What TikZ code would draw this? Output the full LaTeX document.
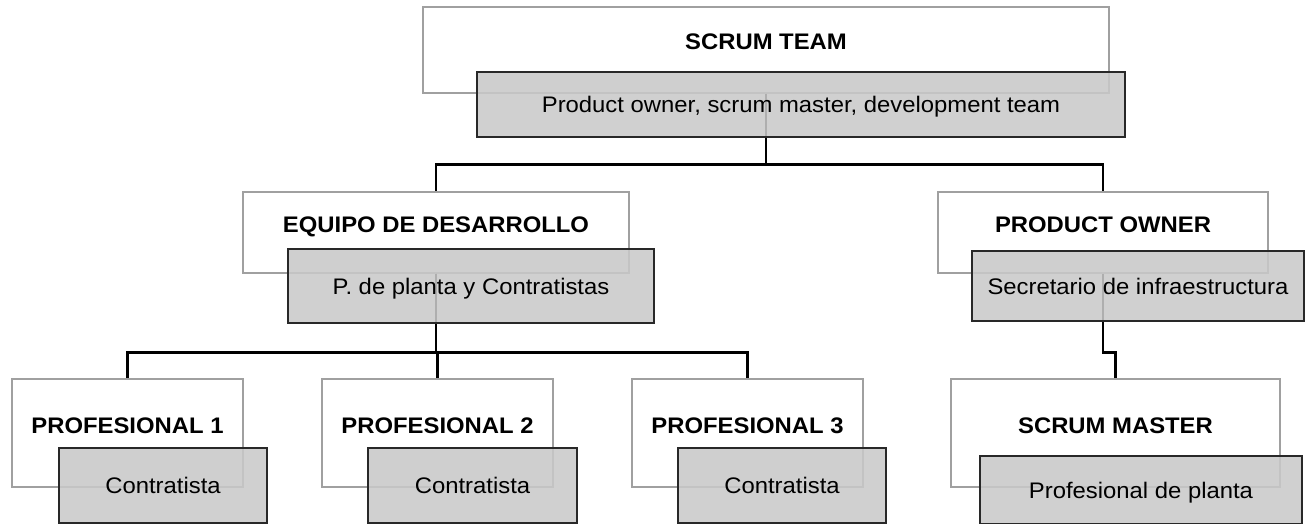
\documentclass[tikz,border=0pt]{standalone}
\usepackage{fontspec}
\setmainfont{Liberation Sans}[FakeStretch=1.06]
\definecolor{wborder}{RGB}{160,160,160}
\definecolor{gborder}{RGB}{40,40,40}
\definecolor{gfill}{RGB}{201,201,201}
\begin{document}
\begin{tikzpicture}[x=1pt,y=-1pt,
  whitebox/.style={draw=wborder, line width=1.2pt, fill=white, inner sep=0pt},
  graybox/.style={draw=gborder, line width=1.2pt, fill=gfill, fill opacity=0.87,
    draw opacity=1, text opacity=1, inner sep=0pt, text height=16pt, text depth=0pt,
    font=\fontsize{22.5}{27}\selectfont},
  titletext/.style={anchor=base, inner sep=0pt, font=\fontsize{22.5}{27}\selectfont\bfseries},
  conn/.style={line width=2.4pt, black}]
\useasboundingbox (0,0) rectangle (1305,524);
% white boxes
\node[whitebox, minimum width=686pt, minimum height=86pt] (ST) at (766,50) {};
\node[whitebox, minimum width=386pt, minimum height=81pt] (EQ) at (436,232.5) {};
\node[whitebox, minimum width=330pt, minimum height=81pt] (PO) at (1103,232.5) {};
\node[whitebox, minimum width=231pt, minimum height=108pt] (P1) at (127.5,433) {};
\node[whitebox, minimum width=231pt, minimum height=108pt] (P2) at (437.5,433) {};
\node[whitebox, minimum width=231pt, minimum height=108pt] (P3) at (747.5,433) {};
\node[whitebox, minimum width=329pt, minimum height=108pt] (SM) at (1115.5,433) {};
% titles
\node[titletext] (STt) at (ST.center) {SCRUM TEAM};
\node[titletext] (EQt) at (EQ.center) {EQUIPO DE DESARROLLO};
\node[titletext] (POt) at (PO.center) {PRODUCT OWNER};
\node[titletext] (P1t) at (P1.center) {PROFESIONAL 1};
\node[titletext] (P2t) at (P2.center) {PROFESIONAL 2};
\node[titletext] (P3t) at (P3.center) {PROFESIONAL 3};
\node[titletext] (SMt) at (SM.center) {SCRUM MASTER};
% connectors
\draw[conn] (ST.south) -- ++(0,71) -| (EQ.north);
\draw[conn] (ST.south) -- ++(0,71) -| (PO.north);
\draw[conn] (EQ.south) -- ++(0,79) -| (P1.north);
\draw[conn] (EQ.south) -- ++(0,79) -| (P2.north);
\draw[conn] (EQ.south) -- ++(0,79) -| (P3.north);
\draw[conn] (PO.south) -- ++(0,79) -| (SM.north);
% gray boxes
\node[graybox, minimum width=648pt, minimum height=65pt] (STg) at (801,104.5) {Product owner, scrum master, development team};
\node[graybox, minimum width=366pt, minimum height=74pt] (EQg) at (471,286) {P. de planta y Contratistas};
\node[graybox, minimum width=332pt, minimum height=70pt] (POg) at (1138,286) {Secretario de infraestructura};
\node[graybox, minimum width=208pt, minimum height=75pt] (P1g) at (163,485.5) {Contratista};
\node[graybox, minimum width=209pt, minimum height=75pt] (P2g) at (472.5,485.5) {Contratista};
\node[graybox, minimum width=208pt, minimum height=75pt] (P3g) at (782,485.5) {Contratista};
\node[graybox, minimum width=322pt, minimum height=68pt] (SMg) at (1141,490) {Profesional de planta};
\end{tikzpicture}
\end{document}
